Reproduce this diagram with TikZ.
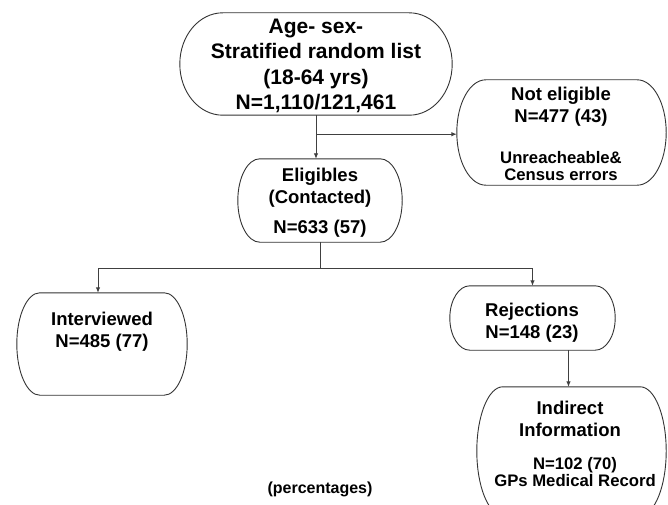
\documentclass[tikz,border=0pt]{standalone}
\usepackage{fontspec}
\setmainfont{Liberation Sans}
\usetikzlibrary{calc,arrows.meta}
\newcommand\termoutline[2]{%
  \draw[outline] let \p1=(#1.north west), \p2=(#1.south east), \n1={abs(\y1-\y2)/2} in
    (\x1+#2,\y1) -- (\x2-#2,\y1)
    arc[start angle=90, end angle=-90, x radius=#2, y radius=\n1]
    -- (\x1+#2,\y2)
    arc[start angle=270, end angle=90, x radius=#2, y radius=\n1] -- cycle;}
\tikzset{
  box/.style={rectangle, inner sep=0pt, draw=none},
  outline/.style={draw=black!80, line width=0.9pt},
  txt/.style={inner sep=0pt, align=center, font=\bfseries\fontsize{18.5}{22}\selectfont},
  small/.style={inner sep=0pt, align=center, font=\bfseries\fontsize{16.7}{17.8}\selectfont},
  conn/.style={draw=black!75, line width=0.9pt},
  arr/.style={conn, -{Latex[length=5.5pt,width=4.5pt]}}
}
\begin{document}
\begin{tikzpicture}[x=1pt,y=-1pt]
\useasboundingbox (0,0) rectangle (668,505);
\clip (0,0) rectangle (668,505);
% boxes
\node[box, minimum width=272pt, minimum height=102pt] (top) at (316,64) {};
\node[box, minimum width=209pt, minimum height=105pt] (ne) at (561.5,132.5) {};
\node[box, minimum width=164pt, minimum height=83pt] (el) at (320,200.5) {};
\node[box, minimum width=170pt, minimum height=102pt] (iv) at (102,344) {};
\node[box, minimum width=165pt, minimum height=64pt] (rj) at (532.5,318) {};
\node[box, minimum width=189pt, minimum height=128pt] (ind) at (571.5,451) {};
\termoutline{top}{43pt}
\termoutline{ne}{29pt}
\termoutline{el}{22pt}
\termoutline{iv}{23pt}
\termoutline{rj}{20pt}
\termoutline{ind}{26pt}
% texts
\node[txt, font=\bfseries\fontsize{21}{25.5}\selectfont] (ttop) at (316,66) {Age- sex-\\Stratified random list\\(18-64 yrs)\\N=1,110/121,461};
\node[txt] (tne1) at (561,107) {Not eligible\\N=477 (43)};
\node[small] (tne2) at (561,166) {Unreacheable\&\\Census errors};
\node[txt] (tel1) at (320,188) {Eligibles\\(Contacted)};
\node[txt] (tel2) at (320,229) {N=633 (57)};
\node[txt] (tiv) at (102,332) {Interviewed\\N=485 (77)};
\node[txt] (trj) at (532,323) {Rejections\\N=148 (23)};
\node[txt] (tind1) at (570,419) {Indirect\\Information};
\node[small] (tind2) at (575,472) {N=102 (70)\\GPs Medical Record};
\node[small, font=\bfseries\fontsize{16}{17.5}\selectfont] (pct) at (320,489) {(percentages)};
% connectors
\coordinate (b1) at ($(top.south)+(0,19)$);
\draw[arr] (top.south) -- (top.south |- el.north);
\draw[arr] (b1) -- (b1 -| ne.west);
\coordinate (b2) at ($(el.south)+(0,26)$);
\draw[conn] (el.south) -- (b2);
\draw[arr] (b2) -| ([xshift=-4pt]iv.north);
\draw[arr] (b2) -| (rj.north);
\draw[arr] ([xshift=-3pt]ind.north |- rj.south) -- ([xshift=-3pt]ind.north);
\end{tikzpicture}
\end{document}
